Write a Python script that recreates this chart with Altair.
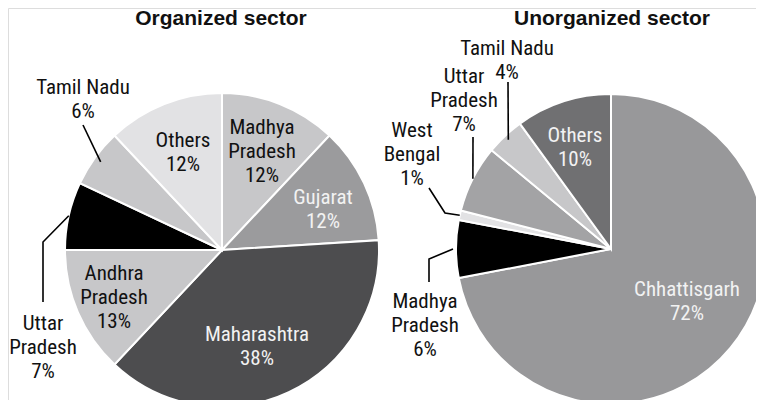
import math
import altair as alt
import pandas as pd

# ---------------- data ----------------
org_states = ["Madhya Pradesh", "Gujarat", "Maharashtra", "Andhra Pradesh",
              "Uttar Pradesh", "Tamil Nadu", "Others"]
org_values = [12, 12, 38, 13, 7, 6, 12]
org_lines = ["Madhya\nPradesh", "Gujarat", "Maharashtra", "Andhra\nPradesh",
             "Uttar\nPradesh", "Tamil Nadu", "Others"]

unorg_states = ["Chhattisgarh", "Madhya Pradesh", "West Bengal", "Uttar Pradesh",
                "Tamil Nadu", "Others"]
unorg_values = [72, 6, 1, 7, 4, 10]
unorg_lines = ["Chhattisgarh", "Madhya\nPradesh", "West\nBengal", "Uttar\nPradesh",
               "Tamil Nadu", "Others"]

titles = ["Organized sector", "Unorganized sector"]

# ---------------- styles / layout ----------------
org_colors = ["#c7c7c9", "#9b9b9d", "#4d4d4f", "#c7c7c9", "#000000", "#c7c7c9", "#e2e2e4"]
org_tcolors = ["#111111", "#f2f2f2", "#f2f2f2", "#111111", "#111111", "#111111", "#111111"]
unorg_colors = ["#98989a", "#000000", "#e2e2e4", "#a3a3a5", "#c7c7c9", "#707072"]
unorg_tcolors = ["#f2f2f2", "#111111", "#111111", "#111111", "#111111", "#f2f2f2"]

# pie centers (page px) and radii
org_center, org_r = (222, 250), 157
unorg_center, unorg_r = (611, 249), 155

# label block centers relative to pie center
org_label_off = [(40, -98), (101, -40), (35, 97), (-108, 48), (-179, 98), (-139, -150), (-39, -97)]
unorg_label_off = [(76, 53), (-186, 77), (-199, -94), (-147, -148), (-104, -188), (-36, -101)]

# leader lines: slice index, start radius, further points relative to center
org_leaders = [(5, 150, [(-139, -125)]),
               (4, 157, [(-179, -8), (-179, 52)])]
unorg_leaders = [(4, 150, [(-103, -167)]),
                 (3, 155, [(-138, -112)]),
                 (2, 155, [(-166, -36), (-182, -61)]),
                 (1, 158, [(-182, 10), (-182, 33)])]

title_pos = [(221, 19), (612, 19)]

LINE_H = 24
FONT = "Arial Narrow, Liberation Sans Narrow, Roboto Condensed, sans-serif"
xs = alt.Scale(domain=[8, 756], nice=False, zero=False)
ys = alt.Scale(domain=[8, 400], reverse=True, nice=False, zero=False)


def pie_layers(states, values, lines, colors, tcolors, center, r, offs, leaders, tag):
    cx, cy = center
    df = pd.DataFrame({"idx": range(len(states)), "state": states,
                       "value": values, "color": colors})
    arc = alt.Chart(df).mark_arc(outerRadius=r, stroke="white", strokeWidth=2).encode(
        theta=alt.Theta("value:Q", stack=True),
        order=alt.Order("idx:Q"),
        color=alt.Color("color:N", scale=None),
        x=alt.value(cx - 8),
        y=alt.value(cy - 8),
    )
    labels = [f"{l}\n{v}%" for l, v in zip(lines, values)]
    lab = pd.DataFrame({
        "px": [cx + o[0] for o in offs],
        # first line position so that the block is centred on the target
        "py": [cy + o[1] - (t.count("\n")) * LINE_H / 2 for o, t in zip(offs, labels)],
        "label": labels,
        "tc": tcolors,
    })
    text = alt.Chart(lab).mark_text(lineBreak="\n", font=FONT, fontSize=21, lineHeight=LINE_H,
                                    baseline="middle", align="center").encode(
        x=alt.X("px:Q", scale=xs, axis=None),
        y=alt.Y("py:Q", scale=ys, axis=None),
        text="label:N",
        color=alt.Color("tc:N", scale=None),
    )
    total = sum(values)
    rows = []
    for k, (i, rs, pts) in enumerate(leaders):
        mid = (sum(values[:i]) + values[i] / 2) / total * 2 * math.pi
        rows.append({"lid": f"{tag}{k}", "ord": 0,
                     "px": cx + rs * math.sin(mid), "py": cy - rs * math.cos(mid)})
        for j, (dx, dy) in enumerate(pts):
            rows.append({"lid": f"{tag}{k}", "ord": j + 1, "px": cx + dx, "py": cy + dy})
    ld = pd.DataFrame(rows)
    lead = alt.Chart(ld).mark_line(color="black", strokeWidth=1.6).encode(
        x=alt.X("px:Q", scale=xs, axis=None),
        y=alt.Y("py:Q", scale=ys, axis=None),
        detail="lid:N",
        order="ord:Q",
    )
    return [arc, lead, text]


layers = []
layers += pie_layers(org_states, org_values, org_lines, org_colors, org_tcolors,
                     org_center, org_r, org_label_off, org_leaders, "o")
layers += pie_layers(unorg_states, unorg_values, unorg_lines, unorg_colors, unorg_tcolors,
                     unorg_center, unorg_r, unorg_label_off, unorg_leaders, "u")

tdf = pd.DataFrame({"px": [p[0] for p in title_pos], "py": [p[1] for p in title_pos],
                    "t": titles})
title_layer = alt.Chart(tdf).mark_text(font="Liberation Sans, Arial, sans-serif", fontSize=21,
                                       fontWeight="bold", color="#111111",
                                       baseline="middle", align="center").encode(
    x=alt.X("px:Q", scale=xs, axis=None),
    y=alt.Y("py:Q", scale=ys, axis=None),
    text="t:N",
)
layers.append(title_layer)

chart = alt.layer(*layers).properties(
    width=748, height=392, autosize="none", padding=0
).configure_view(stroke=None).configure(background="white")

chart.save("out.html", embed_options={"renderer": "svg", "actions": False})
